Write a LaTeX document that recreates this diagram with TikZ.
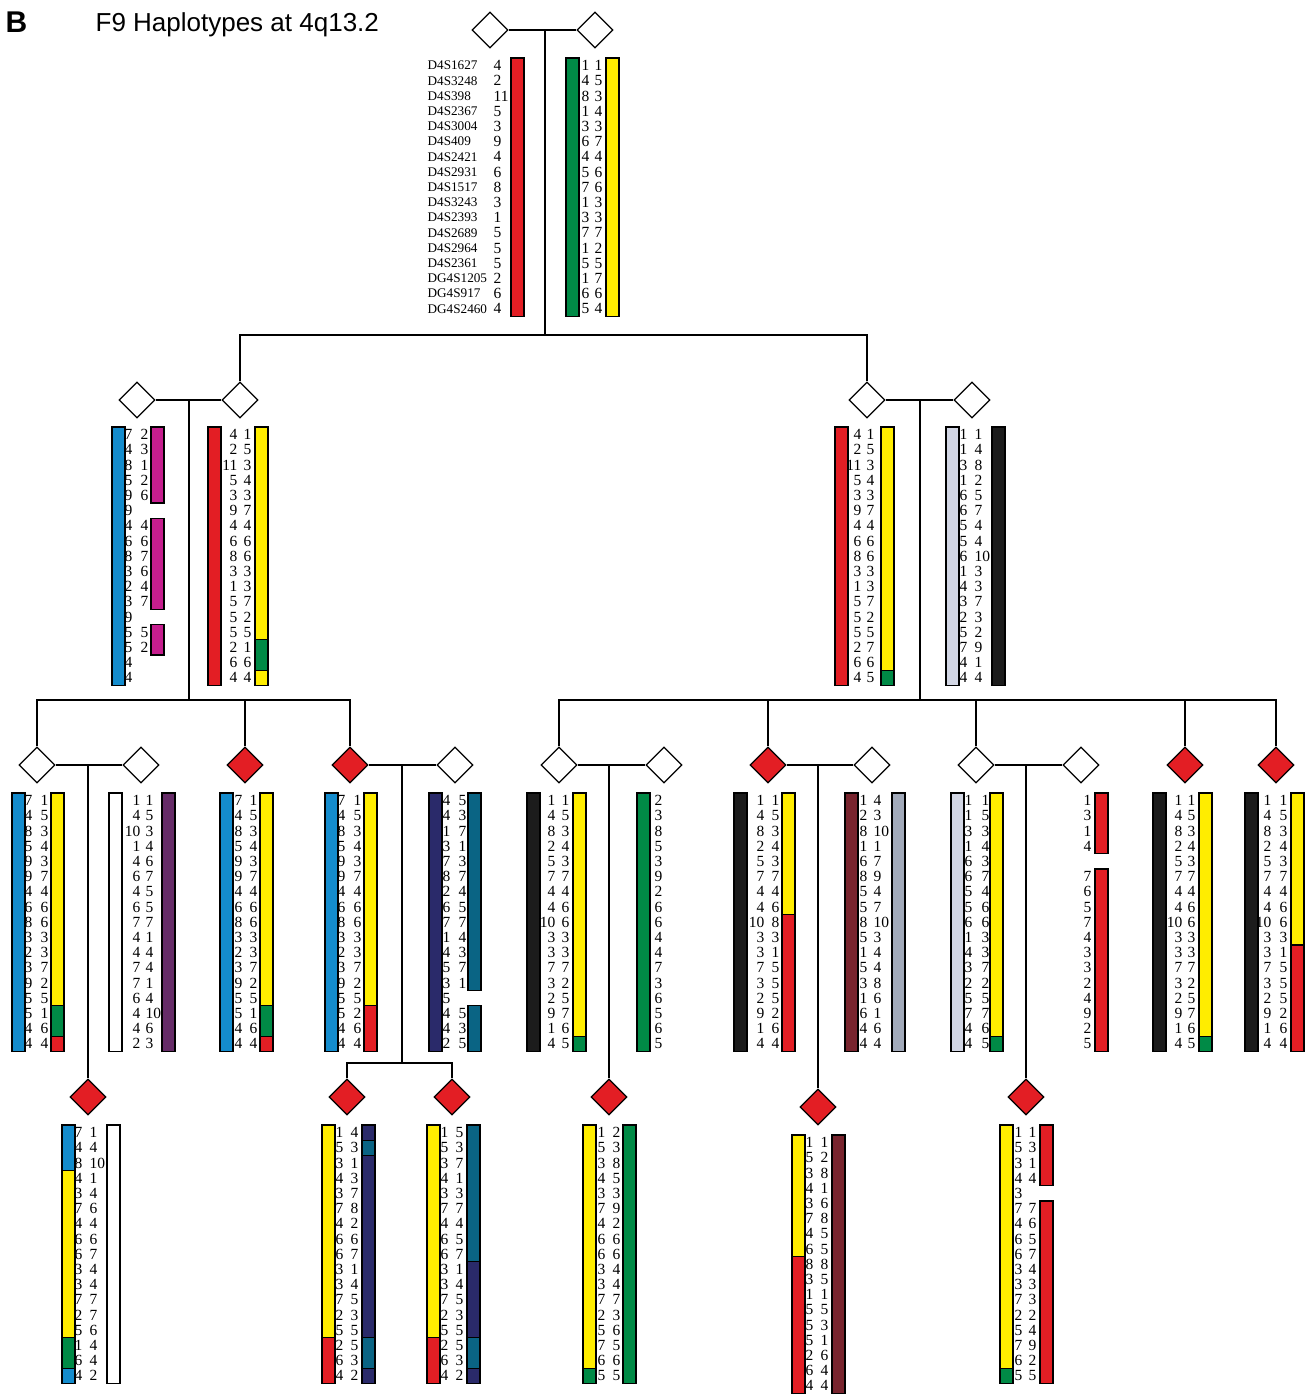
\documentclass[tikz,border=0pt]{standalone}
\usepackage{fontspec}
\setmainfont{Liberation Serif}
\newfontfamily\titlefont{Liberation Sans}
\usetikzlibrary{shapes.geometric}

\definecolor{hapred}{RGB}{227,30,36}
\definecolor{hapyellow}{RGB}{255,237,0}
\definecolor{hapgreen}{RGB}{0,138,70}
\definecolor{hapblue}{RGB}{20,140,205}
\definecolor{hapmagenta}{RGB}{198,30,142}
\definecolor{happurple}{RGB}{102,44,104}
\definecolor{hapnavy}{RGB}{42,42,106}
\definecolor{hapteal}{RGB}{10,100,132}
\definecolor{hapblack}{RGB}{28,28,28}
\definecolor{haplav}{RGB}{210,214,228}
\definecolor{hapgray}{RGB}{162,170,186}
\definecolor{hapmaroon}{RGB}{120,36,46}

% bar piece: x, top of bar, first row, last row, colour
\newcommand{\seg}[5]{\draw[bar,fill=#5] (#1,{#2+15.2*(#3-1)}) rectangle ({#1+13},{#2+15.2*#4});}
% column of alleles: name, x, top of bar, anchor, values
\newcommand{\alleles}[5]{\foreach \v [count=\i] in {#5} \node[num,anchor=#4] (#1-\i) at (#2,{#3+15.2*\i-7.6}) {\v};}

\begin{document}
\begin{tikzpicture}[x=1pt,y=-1pt,line width=1.3pt,
  person/.style={draw,diamond,aspect=1,minimum size=36pt,inner sep=0pt,line width=1.3pt,fill=white},
  affected/.style={person,fill=hapred},
  bar/.style={draw=black,line width=1.3pt},
  num/.style={inner sep=0pt,font=\fontsize{15.5}{16}\selectfont},
  locus/.style={inner sep=0pt,anchor=west,font=\fontsize{13.2}{14}\selectfont}]
\useasboundingbox (0,0) rectangle (1308,1395);

\node[anchor=base west,inner sep=0pt,font=\titlefont\bfseries\fontsize{30}{30}\selectfont] (panel) at (5,32) {B};
\node[anchor=base west,inner sep=0pt,font=\titlefont\fontsize{26}{26}\selectfont] (title) at (95,31) {F9 Haplotypes at 4q13.2};

% generation I
\node[person] (I1) at (490,30) {};
\node[person] (I2) at (595,30) {};
\foreach \n [count=\i] in {D4S1627,D4S3248,D4S398,D4S2367,D4S3004,D4S409,D4S2421,D4S2931,D4S1517,D4S3243,D4S2393,D4S2689,D4S2964,D4S2361,DG4S1205,DG4S917,DG4S2460}
  \node[locus] (loc\i) at (427,{58+15.2*\i-7.6}) {\n};
\alleles{I1a}{493}{58}{west}{4,2,11,5,3,9,4,6,8,3,1,5,5,5,2,6,4}
\seg{511}{58}{1}{17}{hapred}
\seg{566}{58}{1}{17}{hapgreen}
\alleles{I2a}{590}{58}{east}{1,4,8,1,3,6,4,5,7,1,3,7,1,5,1,6,5}
\alleles{I2b}{594}{58}{west}{1,5,3,4,3,7,4,6,6,3,3,7,2,5,7,6,4}
\seg{606}{58}{1}{17}{hapyellow}

% generation II
\node[person] (II1) at (137,400) {};
\node[person] (II2) at (240,400) {};
\node[person] (II3) at (867,400) {};
\node[person] (II4) at (972,400) {};

\seg{112}{427}{1}{17}{hapblue}
\alleles{II1a}{133}{427}{east}{7,4,8,5,9,9,4,6,8,3,2,3,9,5,5,4,4}
\alleles{II1b}{140}{427}{west}{2,3,1,2,6,{},4,6,7,6,4,7,{},5,2,{},{}}
\seg{151}{427}{1}{5}{hapmagenta}
\seg{151}{427}{7}{12}{hapmagenta}
\seg{151}{427}{14}{15}{hapmagenta}

\seg{208}{427}{1}{17}{hapred}
\alleles{II2a}{238}{427}{east}{4,2,11,5,3,9,4,6,8,3,1,5,5,5,2,6,4}
\alleles{II2b}{243}{427}{west}{1,5,3,4,3,7,4,6,6,3,3,7,2,5,1,6,4}
\seg{255}{427}{1}{14}{hapyellow}
\seg{255}{427}{15}{16}{hapgreen}
\seg{255}{427}{17}{17}{hapyellow}

\seg{835}{427}{1}{17}{hapred}
\alleles{II3a}{862}{427}{east}{4,2,11,5,3,9,4,6,8,3,1,5,5,5,2,6,4}
\alleles{II3b}{866}{427}{west}{1,5,3,4,3,7,4,6,6,3,3,7,2,5,7,6,5}
\seg{881}{427}{1}{16}{hapyellow}
\seg{881}{427}{17}{17}{hapgreen}

\seg{946}{427}{1}{17}{haplav}
\alleles{II4a}{968}{427}{east}{1,1,3,1,6,6,5,5,6,1,4,3,2,5,7,4,4}
\alleles{II4b}{974}{427}{west}{1,4,8,2,5,7,4,4,10,3,3,7,3,2,9,1,4}
\seg{992}{427}{1}{17}{hapblack}

% generation III
\node[person] (III1) at (37,765) {};
\node[person] (IIIs1) at (141,765) {};
\node[affected] (III2) at (245,765) {};
\node[affected] (III3) at (350,765) {};
\node[person] (IIIs3) at (455,765) {};
\node[person] (III4) at (559,765) {};
\node[person] (IIIs4) at (664,765) {};
\node[affected] (III5) at (768,765) {};
\node[person] (IIIs5) at (872,765) {};
\node[person] (III6) at (976,765) {};
\node[person] (IIIs6) at (1081,765) {};
\node[affected] (III7) at (1185,765) {};
\node[affected] (III8) at (1276,765) {};

\seg{12}{793}{1}{17}{hapblue}
\alleles{III1a}{33}{793}{east}{7,4,8,5,9,9,4,6,8,3,2,3,9,5,5,4,4}
\alleles{III1b}{40}{793}{west}{1,5,3,4,3,7,4,6,6,3,3,7,2,5,1,6,4}
\seg{51}{793}{1}{14}{hapyellow}
\seg{51}{793}{15}{16}{hapgreen}
\seg{51}{793}{17}{17}{hapred}

\seg{109}{793}{1}{17}{white}
\alleles{IIIs1a}{141}{793}{east}{1,4,10,1,4,6,4,6,7,4,4,7,7,6,4,4,2}
\alleles{IIIs1b}{145}{793}{west}{1,5,3,4,6,7,5,5,7,1,4,4,1,4,10,6,3}
\seg{162}{793}{1}{17}{happurple}

\seg{220}{793}{1}{17}{hapblue}
\alleles{III2a}{243}{793}{east}{7,4,8,5,9,9,4,6,8,3,2,3,9,5,5,4,4}
\alleles{III2b}{249}{793}{west}{1,5,3,4,3,7,4,6,6,3,3,7,2,5,1,6,4}
\seg{260}{793}{1}{14}{hapyellow}
\seg{260}{793}{15}{16}{hapgreen}
\seg{260}{793}{17}{17}{hapred}

\seg{325}{793}{1}{17}{hapblue}
\alleles{III3a}{346}{793}{east}{7,4,8,5,9,9,4,6,8,3,2,3,9,5,5,4,4}
\alleles{III3b}{353}{793}{west}{1,5,3,4,3,7,4,6,6,3,3,7,2,5,2,6,4}
\seg{364}{793}{1}{14}{hapyellow}
\seg{364}{793}{15}{17}{hapred}

\seg{429}{793}{1}{17}{hapnavy}
\alleles{IIIs3a}{451}{793}{east}{4,4,1,3,7,8,2,6,7,1,4,5,3,5,4,4,2}
\alleles{IIIs3b}{458}{793}{west}{5,3,7,1,3,7,4,5,7,4,3,7,1,{},5,3,5}
\seg{468}{793}{1}{13}{hapteal}
\seg{468}{793}{15}{17}{hapteal}

\seg{527}{793}{1}{17}{hapblack}
\alleles{III4a}{556}{793}{east}{1,4,8,2,5,7,4,4,10,3,3,7,3,2,9,1,4}
\alleles{III4b}{561}{793}{west}{1,5,3,4,3,7,4,6,6,3,3,7,2,5,7,6,5}
\seg{573}{793}{1}{16}{hapyellow}
\seg{573}{793}{17}{17}{hapgreen}

\seg{637}{793}{1}{17}{hapgreen}
\alleles{IIIs4a}{654}{793}{west}{2,3,8,5,3,9,2,6,6,4,4,7,3,6,5,6,5}

\seg{734}{793}{1}{17}{hapblack}
\alleles{III5a}{765}{793}{east}{1,4,8,2,5,7,4,4,10,3,3,7,3,2,9,1,4}
\alleles{III5b}{771}{793}{west}{1,5,3,4,3,7,4,6,8,3,1,5,5,5,2,6,4}
\seg{782}{793}{1}{8}{hapyellow}
\seg{782}{793}{9}{17}{hapred}

\seg{845}{793}{1}{17}{hapmaroon}
\alleles{IIIs5a}{868}{793}{east}{1,2,8,1,6,8,5,5,8,5,1,5,3,1,6,4,4}
\alleles{IIIs5b}{873}{793}{west}{4,3,10,1,7,9,4,7,10,3,4,4,8,6,1,6,4}
\seg{892}{793}{1}{17}{hapgray}

\seg{951}{793}{1}{17}{haplav}
\alleles{III6a}{973}{793}{east}{1,1,3,1,6,6,5,5,6,1,4,3,2,5,7,4,4}
\alleles{III6b}{981}{793}{west}{1,5,3,4,3,7,4,6,6,3,3,7,2,5,7,6,5}
\seg{990}{793}{1}{16}{hapyellow}
\seg{990}{793}{17}{17}{hapgreen}

\alleles{IIIs6a}{1092}{793}{east}{1,3,1,4,{},7,6,5,7,4,3,3,2,4,9,2,5}
\seg{1095}{793}{1}{4}{hapred}
\seg{1095}{793}{6}{17}{hapred}

\seg{1153}{793}{1}{17}{hapblack}
\alleles{III7a}{1183}{793}{east}{1,4,8,2,5,7,4,4,10,3,3,7,3,2,9,1,4}
\alleles{III7b}{1187}{793}{west}{1,5,3,4,3,7,4,6,6,3,3,7,2,5,7,6,5}
\seg{1199}{793}{1}{16}{hapyellow}
\seg{1199}{793}{17}{17}{hapgreen}

\seg{1245}{793}{1}{17}{hapblack}
\alleles{III8a}{1272}{793}{east}{1,4,8,2,5,7,4,4,10,3,3,7,3,2,9,1,4}
\alleles{III8b}{1279}{793}{west}{1,5,3,4,3,7,4,6,6,3,1,5,5,5,2,6,4}
\seg{1291}{793}{1}{10}{hapyellow}
\seg{1291}{793}{11}{17}{hapred}

% generation IV
\node[affected] (IV1) at (88,1097) {};
\node[affected] (IV2) at (347,1097) {};
\node[affected] (IV3) at (452,1097) {};
\node[affected] (IV4) at (609,1097) {};
\node[affected] (IV5) at (818,1107) {};
\node[affected] (IV6) at (1026,1097) {};

\seg{62}{1125}{1}{3}{hapblue}
\seg{62}{1125}{4}{14}{hapyellow}
\seg{62}{1125}{15}{16}{hapgreen}
\seg{62}{1125}{17}{17}{hapblue}
\alleles{IV1a}{83}{1125}{east}{7,4,8,4,3,7,4,6,6,3,3,7,2,5,1,6,4}
\alleles{IV1b}{89}{1125}{west}{1,4,10,1,4,6,4,6,7,4,4,7,7,6,4,4,2}
\seg{107}{1125}{1}{17}{white}

\seg{322}{1125}{1}{14}{hapyellow}
\seg{322}{1125}{15}{17}{hapred}
\alleles{IV2a}{344}{1125}{east}{1,5,3,4,3,7,4,6,6,3,3,7,2,5,2,6,4}
\alleles{IV2b}{350}{1125}{west}{4,3,1,3,7,8,2,6,7,1,4,5,3,5,5,3,2}
\seg{362}{1125}{1}{1}{hapnavy}
\seg{362}{1125}{2}{2}{hapteal}
\seg{362}{1125}{3}{14}{hapnavy}
\seg{362}{1125}{15}{16}{hapteal}
\seg{362}{1125}{17}{17}{hapnavy}

\seg{427}{1125}{1}{14}{hapyellow}
\seg{427}{1125}{15}{17}{hapred}
\alleles{IV3a}{449}{1125}{east}{1,5,3,4,3,7,4,6,6,3,3,7,2,5,2,6,4}
\alleles{IV3b}{455}{1125}{west}{5,3,7,1,3,7,4,5,7,1,4,5,3,5,5,3,2}
\seg{467}{1125}{1}{9}{hapteal}
\seg{467}{1125}{10}{14}{hapnavy}
\seg{467}{1125}{15}{16}{hapteal}
\seg{467}{1125}{17}{17}{hapnavy}

\seg{583}{1125}{1}{16}{hapyellow}
\seg{583}{1125}{17}{17}{hapgreen}
\alleles{IV4a}{606}{1125}{east}{1,5,3,4,3,7,4,6,6,3,3,7,2,5,7,6,5}
\alleles{IV4b}{612}{1125}{west}{2,3,8,5,3,9,2,6,6,4,4,7,3,6,5,6,5}
\seg{623}{1125}{1}{17}{hapgreen}

\seg{792}{1135}{1}{8}{hapyellow}
\seg{792}{1135}{9}{17}{hapred}
\alleles{IV5a}{814}{1135}{east}{1,5,3,4,3,7,4,6,8,3,1,5,5,5,2,6,4}
\alleles{IV5b}{820}{1135}{west}{1,2,8,1,6,8,5,5,8,5,1,5,3,1,6,4,4}
\seg{832}{1135}{1}{17}{hapmaroon}

\seg{1000}{1125}{1}{16}{hapyellow}
\seg{1000}{1125}{17}{17}{hapgreen}
\alleles{IV6a}{1023}{1125}{east}{1,5,3,4,3,7,4,6,6,3,3,7,2,5,7,6,5}
\alleles{IV6b}{1028}{1125}{west}{1,3,1,4,{},7,6,5,7,4,3,3,2,4,9,2,5}
\seg{1040}{1125}{1}{4}{hapred}
\seg{1040}{1125}{6}{17}{hapred}

% lines of descent
\coordinate (m1) at (545,30);
\coordinate (s1) at (545,335);
\draw (I1) -- (I2);
\draw (m1) -- (s1);
\draw (II2.north) |- (s1) -| (II3.north);

\coordinate (m2) at (189,400);
\coordinate (s2) at (189,700);
\draw (II1) -- (II2);
\draw (m2) -- (s2);
\draw (III1.north) |- (s2) -| (III3.north);
\draw (III2.north) -- (III2.north |- s2);

\coordinate (m3) at (920,400);
\coordinate (s3) at (920,700);
\draw (II3) -- (II4);
\draw (m3) -- (s3);
\draw (III4.north) |- (s3) -| (III8.north);
\foreach \k in {III5,III6,III7} \draw (\k.north) -- (\k.north |- s3);

\coordinate (m4) at (88,765);
\draw (III1) -- (IIIs1);
\draw (m4) -- (IV1);

\coordinate (m5) at (402,765);
\coordinate (s5) at (402,1063);
\draw (III3) -- (IIIs3);
\draw (m5) -- (s5);
\draw (IV2.north) |- (s5) -| (IV3.north);

\coordinate (m6) at (609,765);
\draw (III4) -- (IIIs4);
\draw (m6) -- (IV4);

\coordinate (m7) at (818,765);
\draw (III5) -- (IIIs5);
\draw (m7) -- (IV5);

\coordinate (m8) at (1026,765);
\draw (III6) -- (IIIs6);
\draw (m8) -- (IV6);
\end{tikzpicture}
\end{document}
